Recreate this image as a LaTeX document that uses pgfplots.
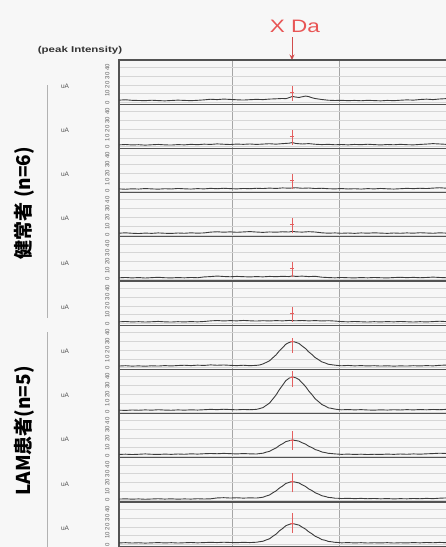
\documentclass[border=0pt]{standalone}
\usepackage{fontspec}
\setmainfont{Liberation Sans}
\newfontfamily\cjk{Noto Sans CJK JP}
\newfontfamily\wide{Liberation Sans}[FakeStretch=1.25]
\newfontfamily\widebold{Liberation Sans Bold}[FakeStretch=1.35]
\usepackage{pgfplots}
\pgfplotsset{compat=1.18}
\usetikzlibrary{arrows.meta}
\definecolor{trace}{RGB}{60,60,60}
\definecolor{mk}{RGB}{228,95,95}
\definecolor{xda}{RGB}{232,85,85}
\definecolor{paper}{RGB}{247,247,247}
\pgfplotsset{panel/.style={
  width=335pt, height=44.2pt, scale only axis, anchor=north west,
  xmin=0, xmax=102.4, ymin=-2, ymax=48,
  xtick={34.6,67.3}, xticklabels={},
  ytick={0,10,20,30,40},
  grid=major,
  x grid style={gray!70, line width=0.6pt},
  y grid style={gray!32, line width=0.45pt},
  major tick length=0pt,
  axis line style={gray!65!black, line width=1.1pt},
  /pgf/number format/assume math mode=true,
  yticklabel style={xshift=-9pt, font=\fontsize{6}{6}\selectfont, rotate=90, anchor=south, text=gray!75!black, inner sep=0.3pt},
}}
\begin{document}
\begin{tikzpicture}
\fill[paper] (0,0) rectangle (446pt,-547pt);
\node[text=xda, font=\wide\fontsize{18}{19}\selectfont] at (295pt,-26pt) {X Da};
\draw[-{Stealth[length=5.5pt,width=5pt]}, xda!90!black, line width=1pt] (292pt,-37pt) -- (292pt,-60pt);
\node[font=\widebold\fontsize{8.5}{9}\selectfont, text=gray!40!black] at (80pt,-50pt) {(peak Intensity)};
\draw[gray!60, line width=0.8pt] (47pt,-85pt) -- (47pt,-318pt);
\draw[gray!60, line width=0.8pt] (47pt,-332pt) -- (47pt,-560pt);
\node[rotate=90, font=\cjk\bfseries\fontsize{19}{20}\selectfont] at (24pt,-203pt) {健常者 (n=6)};
\node[rotate=90, font=\cjk\bfseries\fontsize{19}{20}\selectfont] at (24pt,-431pt) {LAM患者(n=5)};
\foreach \t in {60,104.2,148.4,192.6,236.8,281,325.2,369.4,413.6,457.8,502}{
  \node[font=\fontsize{6.5}{6.5}\selectfont, text=gray!65!black] at (65pt,-\t pt-26pt) {uA};
}
% Panel 1
\begin{axis}[panel, at={(119pt,-60pt)}]
\addplot[trace, line width=0.9pt] coordinates {(0,2.6)(2,3.0)(4,2.4)(6,2.2)(8,2.0)(10,2.5)(12,2.1)(14,1.8)(16,2.2)(18,2.6)(20,2.3)(22,2.0)(24,2.4)(26,2.9)(28,3.6)(30,3.2)(32,3.8)(34,3.4)(36,3.0)(38,2.7)(40,3.1)(42,3.5)(44,3.2)(46,3.8)(48,4.1)(50,4.5)(51,4.2)(52,5.4)(53,6.8)(54,6.1)(55,5.6)(56,6.4)(57,7.2)(58,6.6)(59,5.3)(60,4.4)(62,3.3)(64,2.5)(66,2.2)(68,2.4)(70,2.0)(72,2.3)(74,1.9)(76,2.4)(78,2.1)(80,1.8)(82,2.3)(84,2.0)(86,2.5)(88,2.9)(90,2.6)(92,3.3)(94,3.7)(96,3.2)(98,3.9)(100,4.3)(102,3.8)};
\addplot[mk, line width=0.6pt] coordinates {(52.9,2)(52.9,19)};
\addplot[mk, line width=0.6pt] coordinates {(52.2,12)(53.6,12)};
\end{axis}
% Panel 2
\begin{axis}[panel, at={(119pt,-104.2pt)}]
\addplot[trace, line width=0.9pt] coordinates {(0,2.0)(2,2.4)(4,1.9)(6,2.2)(8,1.7)(10,2.1)(12,2.5)(14,2.0)(16,1.8)(18,2.3)(20,2.0)(22,2.6)(24,2.2)(26,2.8)(28,2.5)(30,3.1)(32,2.7)(34,2.4)(36,2.9)(38,2.6)(40,3.0)(42,2.5)(44,2.9)(46,3.3)(48,2.8)(50,3.4)(52,3.9)(53,4.6)(54,3.6)(56,3.0)(58,3.4)(60,2.7)(62,2.3)(64,2.6)(66,2.1)(68,2.4)(70,2.0)(72,2.5)(74,2.2)(76,2.7)(78,2.3)(80,1.9)(82,2.4)(84,2.1)(86,2.6)(88,2.2)(90,2.0)(92,2.5)(94,2.9)(96,3.4)(98,3.0)(100,2.6)(102,2.9)};
\addplot[mk, line width=0.6pt] coordinates {(52.9,2)(52.9,19)};
\addplot[mk, line width=0.6pt] coordinates {(52.2,12)(53.6,12)};
\end{axis}
% Panel 3
\begin{axis}[panel, at={(119pt,-148.4pt)}]
\addplot[trace, line width=0.9pt] coordinates {(0,2.2)(2,1.8)(4,2.3)(6,2.0)(8,2.6)(10,2.2)(12,1.9)(14,2.4)(16,2.1)(18,2.7)(20,2.3)(22,2.0)(24,2.5)(26,2.2)(28,2.8)(30,2.4)(32,2.9)(34,2.5)(36,2.2)(38,2.7)(40,2.4)(42,2.9)(44,2.6)(46,3.1)(48,2.7)(50,3.3)(52,3.0)(54,3.5)(56,2.9)(58,3.2)(60,2.6)(62,2.9)(64,2.4)(66,2.2)(68,2.6)(70,2.1)(72,2.4)(74,2.0)(76,2.5)(78,2.2)(80,2.7)(82,2.3)(84,2.0)(86,2.4)(88,2.8)(90,2.5)(92,2.9)(94,2.6)(96,3.1)(98,3.5)(100,3.0)(102,3.3)};
\addplot[mk, line width=0.6pt] coordinates {(52.9,2)(52.9,19)};
\addplot[mk, line width=0.6pt] coordinates {(52.2,12)(53.6,12)};
\end{axis}
% Panel 4
\begin{axis}[panel, at={(119pt,-192.6pt)}]
\addplot[trace, line width=0.9pt] coordinates {(0,2.1)(2,2.5)(4,2.0)(6,1.7)(8,2.2)(10,1.9)(12,2.4)(14,2.0)(16,1.8)(18,2.3)(20,2.0)(22,2.5)(24,2.1)(26,2.4)(28,3.3)(30,3.7)(32,3.2)(34,3.6)(36,3.1)(38,3.5)(40,3.9)(42,3.4)(44,3.0)(46,3.5)(48,3.2)(50,3.7)(52,3.4)(53,4.2)(54,3.6)(56,3.3)(58,3.8)(60,3.4)(62,2.5)(64,2.1)(66,2.4)(68,2.0)(70,2.3)(72,1.9)(74,2.4)(76,2.1)(78,2.5)(80,2.2)(82,1.9)(84,2.3)(86,2.0)(88,2.4)(90,2.1)(92,2.6)(94,2.3)(96,2.0)(98,2.5)(100,2.2)(102,2.6)};
\addplot[mk, line width=0.6pt] coordinates {(52.9,2)(52.9,19)};
\addplot[mk, line width=0.6pt] coordinates {(52.2,12)(53.6,12)};
\end{axis}
% Panel 5
\begin{axis}[panel, at={(119pt,-236.8pt)}]
\addplot[trace, line width=0.9pt] coordinates {(0,1.6)(2,2.0)(4,1.5)(6,1.9)(8,1.4)(10,1.8)(12,2.2)(14,1.7)(16,1.5)(18,1.9)(20,1.6)(22,2.0)(24,1.7)(26,2.6)(28,3.0)(30,3.6)(32,3.1)(34,2.8)(36,3.2)(38,2.9)(40,2.6)(42,3.0)(44,2.7)(46,3.2)(48,2.9)(50,3.3)(52,3.0)(53,3.8)(54,3.2)(56,3.5)(58,3.0)(60,3.3)(62,2.3)(64,1.9)(66,1.6)(68,2.0)(70,1.7)(72,1.5)(74,1.9)(76,1.6)(78,2.0)(80,1.7)(82,1.5)(84,1.9)(86,2.2)(88,1.8)(90,2.1)(92,1.7)(94,2.0)(96,2.4)(98,2.0)(100,1.7)(102,2.1)};
\addplot[mk, line width=0.6pt] coordinates {(52.9,2)(52.9,19)};
\addplot[mk, line width=0.6pt] coordinates {(52.2,12)(53.6,12)};
\end{axis}
% Panel 6
\begin{axis}[panel, at={(119pt,-281pt)}]
\addplot[trace, line width=0.9pt] coordinates {(0,1.8)(2,2.2)(4,1.7)(6,2.0)(8,1.6)(10,1.9)(12,2.3)(14,1.8)(16,1.6)(18,2.0)(20,1.7)(22,2.1)(24,1.8)(26,2.2)(28,2.9)(30,3.3)(32,2.8)(34,3.2)(36,2.9)(38,3.4)(40,3.0)(42,2.7)(44,3.1)(46,2.8)(48,3.2)(50,2.9)(52,3.4)(54,3.0)(56,3.3)(58,2.9)(60,3.2)(62,2.8)(64,3.1)(66,2.7)(68,2.1)(70,1.8)(72,2.2)(74,1.9)(76,1.6)(78,2.0)(80,1.7)(82,2.1)(84,1.8)(86,2.2)(88,1.9)(90,1.6)(92,2.0)(94,1.7)(96,2.1)(98,2.5)(100,2.1)(102,2.4)};
\addplot[mk, line width=0.6pt] coordinates {(52.9,2)(52.9,19)};
\addplot[mk, line width=0.6pt] coordinates {(52.2,12)(53.6,12)};
\end{axis}
% Panel 7
\begin{axis}[panel, at={(119pt,-325.2pt)}]
\addplot[trace, line width=0.9pt] coordinates {(0,1.8)(2,2.2)(4,1.7)(6,2.0)(8,1.6)(10,2.1)(12,1.8)(14,2.3)(16,1.9)(18,2.4)(20,2.7)(22,2.3)(24,2.8)(26,2.5)(28,3.1)(30,2.7)(32,3.0)(34,2.6)(36,2.3)(38,2.7)(40,2.2)(42,2.6)(43,3.0)(44,4.2)(45,5.9)(46,7.7)(47,11.1)(48,14.4)(49,18.9)(50,22.6)(51,26.5)(52,28.4)(53,29.7)(54,28.7)(55,27.4)(56,24.4)(57,21.6)(58,17.8)(59,14.8)(60,11.3)(61,9.0)(62,6.5)(63,5.3)(64,3.8)(65,3.3)(66,2.8)(67,2.4)(68,2.1)(70,2.5)(72,2.0)(74,2.3)(76,1.9)(78,2.2)(80,1.8)(82,2.1)(84,1.7)(86,2.0)(88,1.8)(90,2.2)(92,1.9)(94,2.3)(96,2.0)(98,2.6)(100,2.9)(102,2.5)};
\addplot[mk, line width=0.6pt] coordinates {(52.9,17)(52.9,33)};
\addplot[mk, line width=0.6pt] coordinates {(52.2,29.5)(53.6,29.5)};
\end{axis}
% Panel 8
\begin{axis}[panel, at={(119pt,-369.4pt)}]
\addplot[trace, line width=0.9pt] coordinates {(0,1.9)(2,1.6)(4,2.1)(6,1.8)(8,2.2)(10,1.9)(12,2.4)(14,2.0)(16,1.8)(18,2.2)(20,1.9)(22,2.3)(24,2.0)(26,2.4)(28,2.8)(30,2.5)(32,2.9)(34,2.6)(36,2.3)(38,2.7)(40,2.4)(42,2.8)(43,3.7)(44,4.8)(45,7.3)(46,9.9)(47,14.4)(48,19.0)(49,25.0)(50,30.1)(51,35.3)(52,38.1)(53,39.6)(54,38.5)(55,36.6)(56,32.6)(57,28.8)(58,23.6)(59,19.4)(60,14.6)(61,11.6)(62,8.3)(63,6.6)(64,4.5)(65,3.9)(66,3.1)(67,2.6)(68,2.3)(70,2.6)(72,2.2)(74,2.5)(76,2.1)(78,1.9)(80,2.3)(82,2.0)(84,2.4)(86,2.1)(88,2.5)(90,2.2)(92,2.6)(94,2.3)(96,2.7)(98,2.4)(100,2.8)(102,2.5)};
\addplot[mk, line width=0.6pt] coordinates {(52.9,28)(52.9,46)};
\addplot[mk, line width=0.6pt] coordinates {(52.2,39.5)(53.6,39.5)};
\end{axis}
% Panel 9
\begin{axis}[panel, at={(119pt,-413.6pt)}]
\addplot[trace, line width=0.9pt] coordinates {(0,1.8)(2,2.1)(4,1.7)(6,2.0)(8,2.4)(10,2.0)(12,1.8)(14,2.2)(16,1.9)(18,2.3)(20,2.0)(22,2.5)(24,2.2)(26,2.6)(28,2.9)(30,2.6)(32,3.0)(34,2.7)(36,2.4)(38,2.8)(40,2.5)(42,2.3)(43,2.8)(44,3.2)(45,4.4)(46,5.3)(47,7.4)(48,9.1)(49,11.9)(50,13.9)(51,16.3)(52,17.3)(53,18.2)(54,17.5)(55,16.9)(56,15.0)(57,13.5)(58,11.1)(59,9.5)(60,7.3)(61,6.2)(62,4.6)(63,3.9)(64,3.1)(65,2.8)(66,2.4)(67,2.2)(68,1.9)(70,2.2)(72,1.8)(74,2.1)(76,1.7)(78,2.0)(80,1.8)(82,2.2)(84,1.9)(86,2.3)(88,2.0)(90,2.4)(92,2.1)(94,2.5)(96,2.8)(98,3.2)(100,2.9)(102,3.3)};
\addplot[mk, line width=0.6pt] coordinates {(52.9,7)(52.9,28)};
\addplot[mk, line width=0.6pt] coordinates {(52.2,18)(53.6,18)};
\end{axis}
% Panel 10
\begin{axis}[panel, at={(119pt,-457.8pt)}]
\addplot[trace, line width=0.9pt] coordinates {(0,1.3)(2,1.6)(4,1.2)(6,1.5)(8,1.1)(10,1.4)(12,1.7)(14,1.3)(16,1.6)(18,1.2)(20,1.5)(22,1.3)(24,1.7)(26,1.4)(28,1.6)(30,2.6)(32,2.9)(34,2.5)(36,2.8)(38,2.4)(40,2.7)(42,2.5)(43,2.9)(44,3.4)(45,4.8)(46,5.9)(47,8.4)(48,10.5)(49,13.7)(50,16.1)(51,19.0)(52,20.2)(53,21.2)(54,20.4)(55,19.6)(56,17.4)(57,15.6)(58,12.8)(59,10.9)(60,8.4)(61,6.9)(62,5.1)(63,4.3)(64,3.2)(65,2.9)(66,2.3)(67,2.2)(68,1.9)(70,2.2)(72,1.8)(74,2.1)(76,1.7)(78,2.0)(80,1.6)(82,1.9)(84,1.5)(86,1.8)(88,1.6)(90,2.0)(92,1.7)(94,2.1)(96,1.8)(98,2.3)(100,2.6)(102,2.2)};
\addplot[mk, line width=0.6pt] coordinates {(52.9,9)(52.9,31)};
\addplot[mk, line width=0.6pt] coordinates {(52.2,21)(53.6,21)};
\end{axis}
% Panel 11
\begin{axis}[panel, at={(119pt,-502pt)}]
\addplot[trace, line width=0.9pt] coordinates {(0,1.7)(2,2.0)(4,1.6)(6,1.9)(8,1.5)(10,1.8)(12,2.1)(14,1.7)(16,2.0)(18,1.6)(20,1.9)(22,2.2)(24,1.8)(26,2.1)(28,2.4)(30,2.1)(32,2.5)(34,2.2)(36,2.0)(38,2.4)(40,2.1)(42,2.5)(43,3.1)(44,3.6)(45,5.1)(46,6.4)(47,9.2)(48,11.6)(49,15.3)(50,18.0)(51,21.2)(52,22.6)(53,23.7)(54,22.8)(55,21.9)(56,19.5)(57,17.4)(58,14.3)(59,12.0)(60,9.2)(61,7.6)(62,5.5)(63,4.7)(64,3.4)(65,3.0)(66,2.4)(67,2.2)(68,1.8)(70,2.1)(72,1.7)(74,2.0)(76,1.6)(78,1.9)(80,1.7)(82,2.0)(84,1.6)(86,1.9)(88,1.7)(90,2.1)(92,1.8)(94,2.2)(96,1.9)(98,2.3)(100,2.0)(102,2.4)};
\addplot[mk, line width=0.6pt] coordinates {(52.9,13)(52.9,36)};
\addplot[mk, line width=0.6pt] coordinates {(52.2,23.5)(53.6,23.5)};
\end{axis}
\pgfresetboundingbox
\useasboundingbox (0,0) rectangle (446pt,-547pt);
\end{tikzpicture}
\end{document}
